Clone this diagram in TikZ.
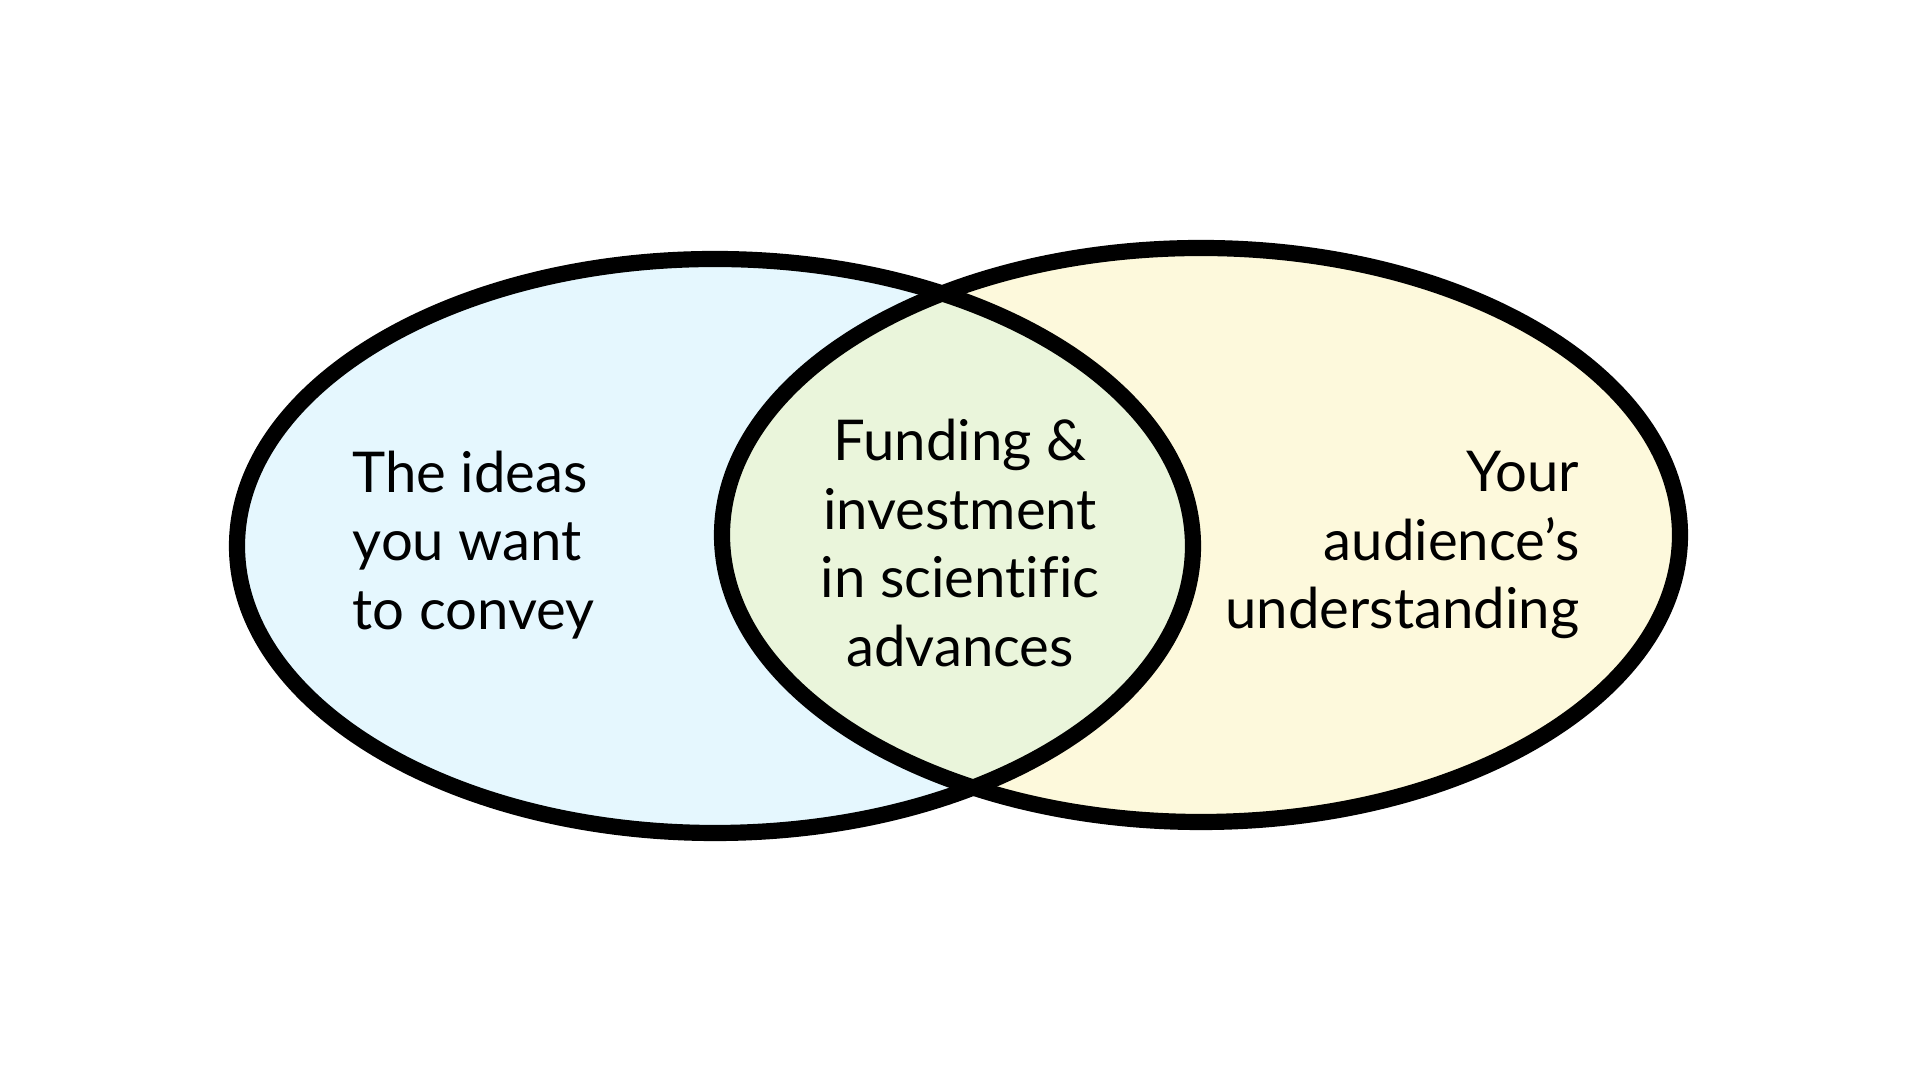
\documentclass[tikz,border=0pt]{standalone}
\usepackage{fontspec}
\setmainfont{Lato}[Ligatures=NoCommon]
\definecolor{leftfill}{HTML}{E5F7FE}
\definecolor{rightfill}{HTML}{FDF9DC}
\definecolor{midfill}{HTML}{EAF5DB}
\tikzset{
  ring/.style={draw=black, line width=4.6pt},
  label/.style={font=\fontsize{16}{19.5}\selectfont, inner sep=0pt, text=black}
}
\begin{document}
\begin{tikzpicture}[x=0.01cm, y=-0.01cm]
\useasboundingbox (0,0) rectangle (1920,1080);
\fill[white] (0,0) rectangle (1920,1080);
\coordinate (lc) at (715,546);
\coordinate (rc) at (1201,535);
\fill[leftfill] (lc) ellipse [x radius=478, y radius=287];
\fill[rightfill] (rc) ellipse [x radius=479, y radius=287];
\begin{scope}
  \clip (lc) ellipse [x radius=478, y radius=287];
  \fill[midfill] (rc) ellipse [x radius=479, y radius=287];
\end{scope}
\draw[ring] (lc) ellipse [x radius=478, y radius=287];
\draw[ring] (rc) ellipse [x radius=479, y radius=287];
\node[label, anchor=west, align=left] (lt) at (352,545) {The ideas\\you want\\to convey};
\node[label, align=center] (mt) at (960,543) {Funding \&\\investment\\in scientific\\advances};
\node[label, anchor=east, align=right] (rt) at (1580,545) {Your\\audience’s\\understanding};
\end{tikzpicture}
\end{document}
